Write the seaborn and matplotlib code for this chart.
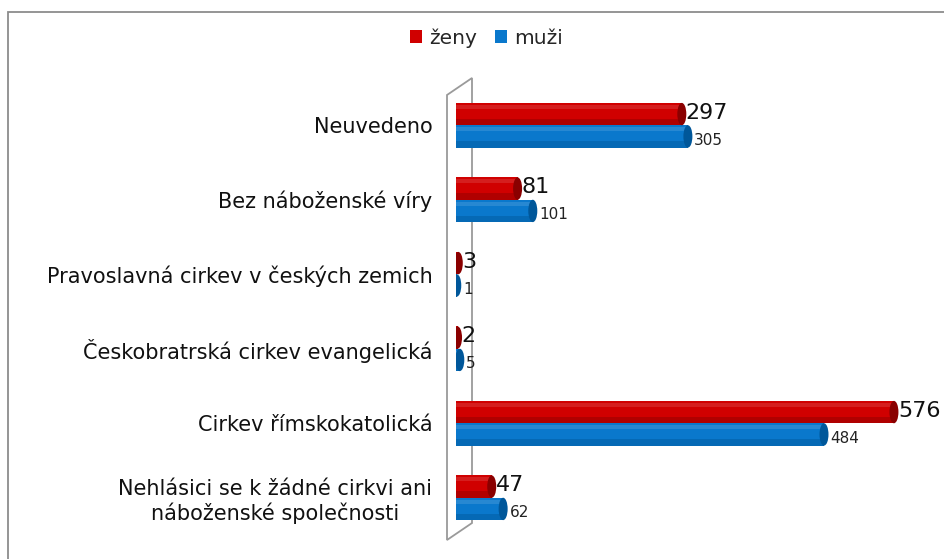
import matplotlib
matplotlib.use("Agg")
import matplotlib.pyplot as plt
from matplotlib.patches import Ellipse, Rectangle, Polygon
import numpy as np
import pandas as pd
import seaborn as sns

categories = [
    "Neuvedeno",
    "Bez náboženské víry",
    "Pravoslavná cirkev v českých zemich",
    "Českobratrská cirkev evangelická",
    "Cirkev římskokatolická",
    "Nehlásici se k žádné cirkvi ani\nnáboženské společnosti",
]
zeny = [297, 81, 3, 2, 576, 47]
muzi = [305, 101, 1, 5, 484, 62]
series = ["ženy", "muži"]

RED = "#D00000"
BLUE = "#0A78CC"
RED_DARK = "#8A0000"
BLUE_DARK = "#00579A"

sns.set_theme(style="white")
plt.rcParams["font.family"] = ["DejaVu Sans"]

df = pd.DataFrame({
    "kategorie": categories * 2,
    "pohlavi": [series[0]] * len(categories) + [series[1]] * len(categories),
    "pocet": zeny + muzi,
})

W, H = 944, 559
fig = plt.figure(figsize=(W / 100, H / 100), dpi=100)

# outer frame (runs off the right and bottom edges)
fig.patches.append(Rectangle((8 / W, -0.05), 1.0, 1.05 - 12 / H, transform=fig.transFigure,
                             fill=False, edgecolor="#8c8c8c", linewidth=1.3, zorder=0))

# 3D wall panel (outline only, behind the bars)
wall = Polygon([(447 / W, 1 - 95 / H), (472 / W, 1 - 78 / H), (472 / W, 1 - 523 / H),
                (447 / W, 1 - 540 / H)], closed=True, transform=fig.transFigure,
               fill=False, edgecolor="#9a9a9a", linewidth=1.3, zorder=0)
fig.patches.append(wall)

ax = fig.add_axes([456 / W, 1 - 535 / H, (935 - 456) / W, (535 - 88) / H])
ax.set_zorder(2)
sns.barplot(data=df, y="kategorie", x="pocet", hue="pohlavi", orient="h",
            palette=[RED, BLUE], width=0.6, ax=ax, legend=False, saturation=1)
ax.set_xlim(0, 630)
ax.patch.set_alpha(0)
for s in ax.spines.values():
    s.set_visible(False)
ax.set_xticks([])
ax.set_xlabel("")
ax.set_ylabel("")
ax.tick_params(axis="y", length=0, pad=17, labelsize=15, labelcolor="#111111")
for lab in ax.get_yticklabels():
    lab.set_multialignment("center")

# cylinder-ish shading and end caps
x_per_px = 630 / (935 - 456)
for cont, dark, big in zip(ax.containers, [RED_DARK, BLUE_DARK], [True, False]):
    for bar, val in zip(cont, cont.datavalues):
        bar.set_edgecolor("none")
        y0, h = bar.get_y(), bar.get_height()
        w = bar.get_width()
        ax.add_patch(Rectangle((0, y0 + h * 0.72), w, h * 0.28, facecolor=dark, alpha=0.45,
                               edgecolor="none", zorder=3))
        ax.add_patch(Rectangle((0, y0 + h * 0.08), w, h * 0.18, facecolor="white", alpha=0.12,
                               edgecolor="none", zorder=3))
        cap_w = 9 * x_per_px
        ax.add_patch(Ellipse((w, y0 + h / 2), cap_w, h, facecolor=dark, edgecolor="none", zorder=4))
        if big:
            ax.text(w + cap_w * 0.45, y0 + h / 2 - 0.02, f"{int(val)}", fontsize=16,
                    va="center", ha="left", color="#111111")
        else:
            ax.text(w + cap_w * 0.7, y0 + h / 2 + 0.05, f"{int(val)}", fontsize=11,
                    va="center", ha="left", color="#222222")

# legend
handles = [Rectangle((0, 0), 1, 1, facecolor=c, edgecolor="none") for c in [RED, BLUE]]
fig.legend(handles, series, loc="center", bbox_to_anchor=(0.515, 1 - 38 / H), ncol=2,
           frameon=False, fontsize=14.5, handlelength=0.6, handleheight=0.6,
           handletextpad=0.35, columnspacing=0.9)

fig.savefig("out.png", dpi=100)
